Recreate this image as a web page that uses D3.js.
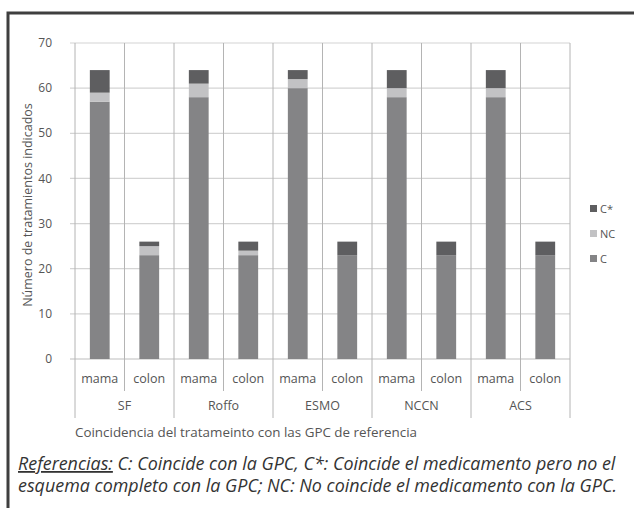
<!DOCTYPE html>
<html>
<head>
<meta charset="utf-8">
<script src="https://cdn.jsdelivr.net/npm/d3@7"></script>
<style>
  body { margin: 0; background: #fff; }
  text { font-family: "Open Sans", "Noto Sans", sans-serif; fill: #555; }
</style>
</head>
<body>
<svg width="634" height="508"></svg>
<script>
const guides = ['SF', 'Roffo', 'ESMO', 'NCCN', 'ACS'];
const tumors = ['mama', 'colon'];
const valC  = [57, 23, 58, 23, 60, 23, 58, 23, 58, 23];
const valNC = [2, 2, 3, 1, 2, 0, 2, 0, 2, 0];
const valCs = [5, 1, 3, 2, 2, 3, 4, 3, 4, 3];
const yTicks = [0, 10, 20, 30, 40, 50, 60, 70];
const seriesNames = ['C', 'NC', 'C*'];
const seriesColors = ['#848486', '#c2c2c4', '#5e5e60'];

const svg = d3.select('svg');

// marco exterior
svg.append('rect')
  .attr('x', 8).attr('y', 13).attr('width', 700).attr('height', 600)
  .attr('fill', 'none').attr('stroke', '#3f3f3f').attr('stroke-width', 3);

const cats = [];
guides.forEach(g => tumors.forEach(t => cats.push(g + '|' + t)));

const rows = cats.map((c, i) => ({ cat: c, C: valC[i], NC: valNC[i], 'C*': valCs[i] }));
const stack = d3.stack().keys(seriesNames)(rows);

const x = d3.scaleBand().domain(cats).range([75, 570]).paddingInner(0.6).paddingOuter(0.3);
const y = d3.scaleLinear().domain([0, 70]).range([359, 43]);
const color = d3.scaleOrdinal().domain(seriesNames).range(seriesColors);
const step = x.step();
const x0 = x.range()[0];

// grilla horizontal
svg.append('g').selectAll('line').data(yTicks).enter().append('line')
  .attr('x1', x0 - 5).attr('x2', x.range()[1])
  .attr('y1', d => y(d)).attr('y2', d => y(d))
  .attr('stroke', d => d === 0 ? '#bdbdbd' : '#d4d4d4').attr('stroke-width', 1.2);

// divisiones verticales
const bounds = d3.range(cats.length + 1);
svg.append('g').selectAll('line').data(bounds).enter().append('line')
  .attr('x1', d => x0 + d * step).attr('x2', d => x0 + d * step)
  .attr('y1', y(70))
  .attr('y2', d => d % 2 === 0 ? 418 : 391)
  .attr('stroke', '#b4b4b4').attr('stroke-width', 1);

// etiquetas eje y
svg.append('g').selectAll('text').data(yTicks).enter().append('text')
  .attr('x', 52).attr('y', d => y(d)).attr('dy', '0.35em')
  .attr('text-anchor', 'end').attr('font-size', 12).text(d => d);

// barras apiladas
svg.append('g').selectAll('g').data(stack).enter().append('g')
  .attr('fill', d => color(d.key))
  .selectAll('rect').data(d => d).enter().append('rect')
  .attr('x', d => x(d.data.cat)).attr('width', x.bandwidth())
  .attr('y', d => y(d[1])).attr('height', d => y(d[0]) - y(d[1]));

// etiquetas categorias
svg.append('g').selectAll('text').data(cats).enter().append('text')
  .attr('x', d => x(d) + x.bandwidth() / 2).attr('y', 383)
  .attr('text-anchor', 'middle').attr('font-size', 12.5)
  .text(d => d.split('|')[1]);

svg.append('g').selectAll('text').data(guides).enter().append('text')
  .attr('x', (d, i) => x0 + (i * 2 + 1) * step).attr('y', 410)
  .attr('text-anchor', 'middle').attr('font-size', 12.5).text(d => d);

svg.append('text').attr('x', 75).attr('y', 437).attr('font-size', 13.4)
  .text('Coincidencia del tratameinto con las GPC de referencia');

svg.append('text')
  .attr('transform', 'translate(32,' + ((y(0) + y(70)) / 2 + 4) + ') rotate(-90)')
  .attr('text-anchor', 'middle').attr('font-size', 12.5)
  .text('Número de tratamientos indicados');

// leyenda
const legend = svg.append('g').selectAll('g').data(seriesNames.slice().reverse()).enter().append('g')
  .attr('transform', (d, i) => 'translate(590,' + (209 + i * 25) + ')');
legend.append('rect').attr('x', 0).attr('y', -4).attr('width', 7).attr('height', 7)
  .attr('fill', d => color(d));
legend.append('text').attr('x', 10).attr('dy', '0.35em').attr('font-size', 11).text(d => d);

// nota al pie
const note = svg.append('text').attr('font-size', 17.9).attr('font-style', 'italic')
  .style('fill', '#333');
const l1 = note.append('tspan').attr('x', 18).attr('y', 470);
l1.append('tspan').attr('text-decoration', 'underline').text('Referencias:');
l1.append('tspan').text(' C: Coincide con la GPC, C*: Coincide el medicamento pero no el');
note.append('tspan').attr('x', 18).attr('y', 492)
  .text('esquema completo con la GPC; NC: No coincide el medicamento con la GPC.');
</script>
</body>
</html>
